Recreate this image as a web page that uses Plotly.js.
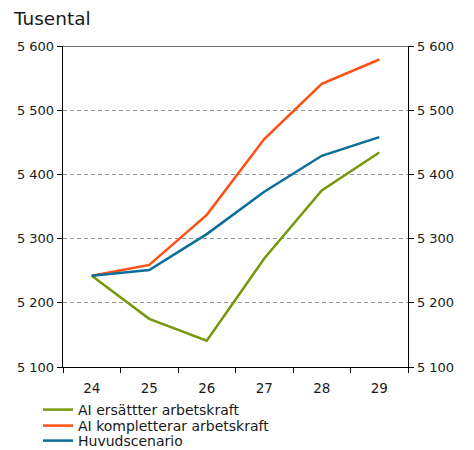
<!DOCTYPE html>
<html>
<head>
<meta charset="utf-8">
<script src="https://cdn.plot.ly/plotly-3.0.1.min.js"></script>
<style>html,body{margin:0;padding:0;background:#fff}#chart{width:474px;height:450px}</style>
</head>
<body>
<div id="chart"></div>
<script>
const years = ["24", "25", "26", "27", "28", "29"];
const aiErsatter = [5242, 5175, 5141, 5269, 5375, 5434];
const aiKompletterar = [5242, 5259, 5337, 5455, 5541, 5579];
const huvudscenario = [5242, 5251, 5307, 5373, 5429, 5458];
const yTickVals = [5100, 5200, 5300, 5400, 5500, 5600];
const yTickText = ["5 100", "5 200", "5 300", "5 400", "5 500", "5 600"];
const seriesNames = ["AI ersättter arbetskraft", "AI kompletterar arbetskraft", "Huvudscenario"];

const fam = "DejaVu Sans, Verdana, sans-serif";
const txt = "#1a1a1a";

const traces = [
  {x: years, y: aiErsatter, name: seriesNames[0], legend: "legend", type: "scatter", mode: "lines", line: {color: "#76980A", width: 2.5}},
  {x: years, y: aiKompletterar, name: seriesNames[1], legend: "legend2", type: "scatter", mode: "lines", line: {color: "#FF5014", width: 2.5}},
  {x: years, y: huvudscenario, name: seriesNames[2], legend: "legend3", type: "scatter", mode: "lines", line: {color: "#0A6F98", width: 2.5}},
  {x: years, y: huvudscenario, yaxis: "y2", type: "scatter", mode: "lines", showlegend: false, hoverinfo: "skip", line: {color: "rgba(0,0,0,0)", width: 0}}
];

function leg(yTop) {
  return {xref: "container", yref: "container", x: 38 / 474, xanchor: "left", y: 1 - yTop / 450, yanchor: "top",
    font: {family: fam, size: 14, color: txt}, itemwidth: 30, bgcolor: "rgba(0,0,0,0)", borderwidth: 0};
}

const layout = {
  width: 474, height: 450,
  margin: {l: 63, r: 66, t: 46, b: 83, autoexpand: false},
  paper_bgcolor: "#fff", plot_bgcolor: "#fff",
  font: {family: fam, size: 13, color: txt},
  showlegend: true,
  legend: leg(394),
  legend2: leg(410),
  legend3: leg(425),
  xaxis: {
    type: "category", range: [-0.5, 5.5], tickson: "boundaries",
    ticks: "outside", ticklen: 5, tickcolor: "#000", tickwidth: 1,
    showline: true, linecolor: "#000", linewidth: 1.3,
    showgrid: false, zeroline: false, fixedrange: true, tickangle: 0,
    ticklabelstandoff: 8,
    tickfont: {family: fam, size: 13.5, color: txt}
  },
  yaxis: {
    range: [5100, 5600], tickvals: yTickVals, ticktext: yTickText,
    ticks: "outside", ticklen: 5, tickcolor: "#000",
    showline: true, linecolor: "#000", linewidth: 1.3,
    showgrid: true, gridcolor: "#999", griddash: "4px,3px", gridwidth: 1,
    zeroline: false, fixedrange: true,
    tickfont: {family: fam, size: 13, color: txt}
  },
  yaxis2: {
    overlaying: "y", side: "right", range: [5100, 5600], tickvals: yTickVals, ticktext: yTickText,
    ticks: "outside", ticklen: 5, tickcolor: "#000",
    showline: true, linecolor: "#000", linewidth: 1.3,
    showgrid: false, zeroline: false, fixedrange: true,
    tickfont: {family: fam, size: 13, color: txt}
  },
  shapes: [
    {type: "line", xref: "paper", yref: "y", x0: 0, x1: 1, y0: 5600, y1: 5600, line: {color: "#444", width: 1.3}}
  ],
  annotations: [
    {text: "Tusental", xref: "paper", yref: "paper", x: -0.15, y: 1.0, yshift: 28, xanchor: "left", yanchor: "middle", showarrow: false, font: {family: fam, size: 18.5, color: txt}}
  ]
};

Plotly.newPlot("chart", traces, layout, {displayModeBar: false, staticPlot: true});
</script>
</body>
</html>
